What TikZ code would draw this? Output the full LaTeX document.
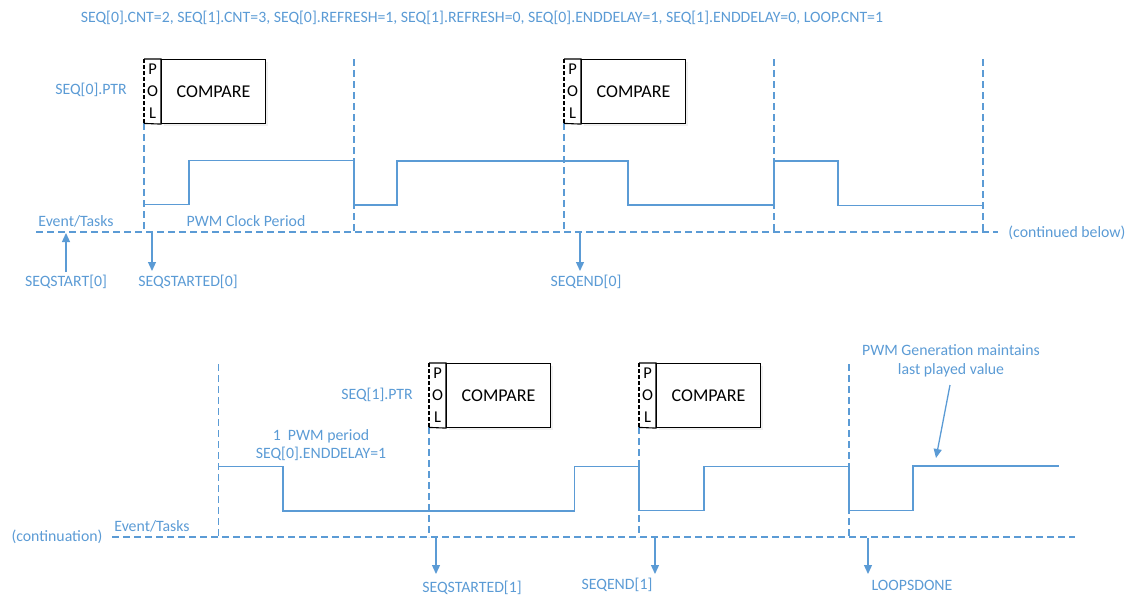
\documentclass[tikz,border=0pt]{standalone}
\usepackage{fontspec}
\setmainfont{Carlito}
\usetikzlibrary{arrows.meta,shadows}
\definecolor{lblue}{HTML}{5B9BD5}
\definecolor{wblue}{HTML}{5B9BD5}
\begin{document}
\begin{tikzpicture}[x=1pt,y=-1pt,
  lbl/.style={text=lblue,font=\fontsize{15.8}{18.5}\selectfont,inner sep=0pt},
  dline/.style={draw=lblue,line width=1.2pt,dash pattern=on 7pt off 4pt},
  wave/.style={draw=wblue,line width=1.3pt,line join=miter},
  arr/.style={draw=lblue,line width=1.3pt,-{Triangle[width=8pt,length=9pt]}},
  cmpbox/.style={fill=white,draw=black,line width=1.1pt,minimum width=104pt,minimum height=64pt,inner sep=0pt,
     font=\fontsize{18}{20}\selectfont,
     drop shadow={opacity=0.12,shadow xshift=2pt,shadow yshift=-2pt}},
  polbox/.style={fill=white,minimum width=17pt,minimum height=64pt,inner sep=0pt,
     font=\fontsize{16.5}{22}\selectfont,align=center},
]
\useasboundingbox (0,0) rectangle (1128,597);

% ---------- top text
\node[lbl] (params) at (482,18) {SEQ[0].CNT=2, SEQ[1].CNT=3, SEQ[0].REFRESH=1, SEQ[1].REFRESH=0, SEQ[0].ENDDELAY=1, SEQ[1].ENDDELAY=0, LOOP.CNT=1};

% ---------- top section
\node[lbl] (ptr0) at (91,90) {SEQ[0].PTR};

% dashed verticals
\draw[dline] (144,123) -- (144,232);
\draw[dline] (354,59) -- (354,232);
\draw[dline] (564,123) -- (564,232);
\draw[dline] (774,59) -- (774,232);
\draw[dline] (983,59) -- (983,232);
% event line
\draw[dline] (36,232) -- (998,232);

% boxes
\node[cmpbox,anchor=north west] (cmp1) at (161,59) {COMPARE};
\node[polbox,anchor=north west] (pol1) at (144,59) {P\\O\\L};
\draw[black,line width=1.1pt] (pol1.north west) -- (cmp1.north west) -- (cmp1.south west) -- (pol1.south west);
\draw[black,line width=1.1pt,dash pattern=on 4pt off 2pt] (pol1.north west) -- (pol1.south west);

\node[cmpbox,anchor=north west] (cmp2) at (581,59) {COMPARE};
\node[polbox,anchor=north west] (pol2) at (564,59) {P\\O\\L};
\draw[black,line width=1.1pt] (pol2.north west) -- (cmp2.north west) -- (cmp2.south west) -- (pol2.south west);
\draw[black,line width=1.1pt,dash pattern=on 4pt off 2pt] (pol2.north west) -- (pol2.south west);

% waveform top
\draw[wave] (144,204.5) -- (189,204.5) -- (189,160.5) -- (354,160.5) -- (354,205) -- (397,205) -- (397,161) -- (628,161) -- (628,205) -- (774,205) -- (774,161) -- (838,161) -- (838,205.5) -- (984,205.5);

\node[lbl] (ev0) at (76,221) {Event/Tasks};
\node[lbl] (clk) at (246,221) {PWM Clock Period};
\node[lbl] (cont0) at (1067,233) {(continued below)};

\node[lbl] (l-start0) at (66,282) {SEQSTART[0]};
\node[lbl] (l-started0) at (188,282) {SEQSTARTED[0]};
\node[lbl] (l-end0) at (586,282) {SEQEND[0]};
\coordinate (t-start0) at (66,233);
\coordinate (t-started0) at (152,233);
\coordinate (t-end0) at (580,233);
\draw[arr] (66,272) -- (t-start0);
\draw[arr] (t-started0) -- (152,271);
\draw[arr] (t-end0) -- (580,271);

% ---------- bottom section
\node[lbl] (ptr1) at (377,395) {SEQ[1].PTR};

\draw[dline] (218.5,364) -- (218.5,537);
\draw[dline] (429,427) -- (429,537);
\draw[dline] (639,427) -- (639,537);
\draw[dline] (849,364) -- (849,537);
\draw[dline] (112,537) -- (1075,537);

\node[cmpbox,anchor=north west,minimum width=104pt] (cmp3) at (446,363) {COMPARE};
\node[polbox,anchor=north west] (pol3) at (429,363) {P\\O\\L};
\draw[black,line width=1.1pt] (pol3.north west) -- (cmp3.north west) -- (cmp3.south west) -- (pol3.south west);
\draw[black,line width=1.1pt,dash pattern=on 4pt off 2pt] (pol3.north west) -- (pol3.south west);

\node[cmpbox,anchor=north west] (cmp4) at (656,363) {COMPARE};
\node[polbox,anchor=north west] (pol4) at (639,363) {P\\O\\L};
\draw[black,line width=1.1pt] (pol4.north west) -- (cmp4.north west) -- (cmp4.south west) -- (pol4.south west);
\draw[black,line width=1.1pt,dash pattern=on 4pt off 2pt] (pol4.north west) -- (pol4.south west);

\draw[wave] (218.5,466.5) -- (283,466.5) -- (283,511) -- (574.5,511) -- (574.5,466.5) -- (639,466.5) -- (639,510.5) -- (704,510.5) -- (704,466.5) -- (849,466.5) -- (849,510.5) -- (913,510.5) -- (913,466) -- (1059,466);

\node[lbl,align=center] (enddelay) at (321,445) {1\ \ PWM period\\SEQ[0].ENDDELAY=1};

\node[lbl] (contn) at (57,537) {(continuation)};
\node[lbl] (ev1) at (152,526) {Event/Tasks};

\node[lbl,align=center] (maint) at (951,361) {PWM Generation maintains\\last played value};
\coordinate (mt) at (936,458);
\draw[arr] (950,385) -- (mt);

\node[lbl] (l-started1) at (472,588) {SEQSTARTED[1]};
\node[lbl] (l-end1) at (617,585) {SEQEND[1]};
\node[lbl] (l-loops) at (912,585) {LOOPSDONE};
\coordinate (t-started1) at (436,538);
\coordinate (t-end1) at (655,538);
\coordinate (t-loops) at (868,538);
\draw[arr] (t-started1) -- (436,574);
\draw[arr] (t-end1) -- (655,574);
\draw[arr] (t-loops) -- (868,574);
\end{tikzpicture}
\end{document}
